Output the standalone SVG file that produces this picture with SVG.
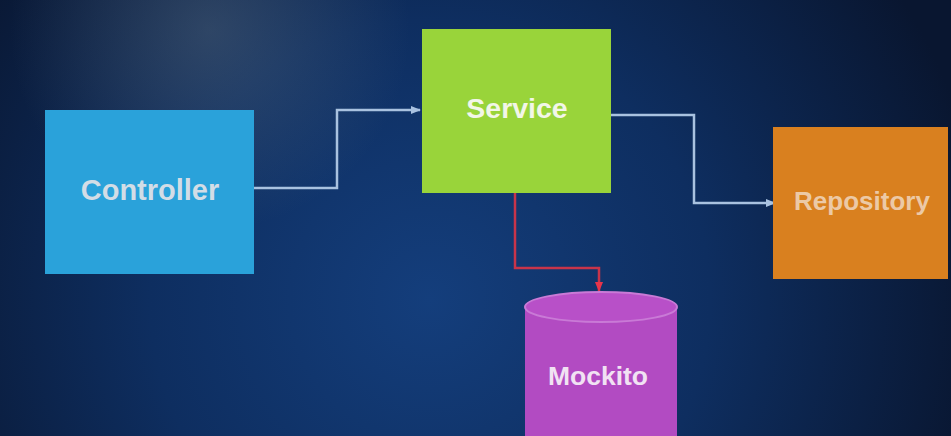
<svg xmlns="http://www.w3.org/2000/svg" width="951" height="436" viewBox="0 0 951 436">
<defs>
<radialGradient id="bg" cx="430" cy="300" r="560" gradientUnits="userSpaceOnUse">
<stop offset="0" stop-color="#143e7c"/>
<stop offset="0.5" stop-color="#0e2e60"/>
<stop offset="1" stop-color="#091630"/>
</radialGradient>
<radialGradient id="glare" cx="210" cy="30" r="200" gradientUnits="userSpaceOnUse">
<stop offset="0" stop-color="#6d7c86" stop-opacity="0.35"/>
<stop offset="1" stop-color="#6d7c86" stop-opacity="0"/>
</radialGradient>
<marker id="arrB" markerWidth="10" markerHeight="10" refX="9" refY="5" orient="auto" markerUnits="userSpaceOnUse">
<path d="M0,1 L10,5 L0,9 Z" fill="#a9c2e0"/>
</marker>
<marker id="arrR" markerWidth="10" markerHeight="10" refX="9" refY="5" orient="auto" markerUnits="userSpaceOnUse">
<path d="M0,1 L10,5 L0,9 Z" fill="#e8344a"/>
</marker>
</defs>
<style>
.lbl{font-family:"Liberation Sans",Arial,sans-serif;font-weight:bold;text-anchor:middle;dominant-baseline:central}
.conn{fill:none;stroke-width:2.5}
</style>
<rect width="951" height="436" fill="url(#bg)"/>
<rect width="951" height="436" fill="url(#glare)"/>
<g id="connectors">
<path class="conn" stroke="#a9c2e0" d="M254,188 H337 V110 H420" marker-end="url(#arrB)"/>
<path class="conn" stroke="#a9c2e0" d="M611,115 H694 V203 H775" marker-end="url(#arrB)"/>
<path class="conn" stroke="#c8344a" d="M515,193 V268 H599 V291" marker-end="url(#arrR)"/>
</g>
<g id="controller">
<rect x="45" y="110" width="209" height="164" fill="#2aa2da"/>
<text class="lbl" x="150" y="190" font-size="29" fill="#d3dde6">Controller</text>
</g>
<g id="service">
<rect x="422" y="29" width="189" height="164" fill="#99d43a"/>
<text class="lbl" x="517" y="108" font-size="28.5" fill="#f2f6e8">Service</text>
</g>
<g id="repository">
<rect x="773" y="127" width="175" height="152" fill="#d9801f"/>
<text class="lbl" x="862" y="201" font-size="26" fill="#ecc9a6">Repository</text>
</g>
<g id="mockito">
<path d="M525,307 V436 H677 V307 Z" fill="#b24bc2"/>
<ellipse cx="601" cy="307" rx="76" ry="15" fill="#b850c8" stroke="#c97ad6" stroke-width="2"/>
<text class="lbl" x="598" y="376" font-size="26.5" fill="#f1e2f3">Mockito</text>
</g>
</svg>
